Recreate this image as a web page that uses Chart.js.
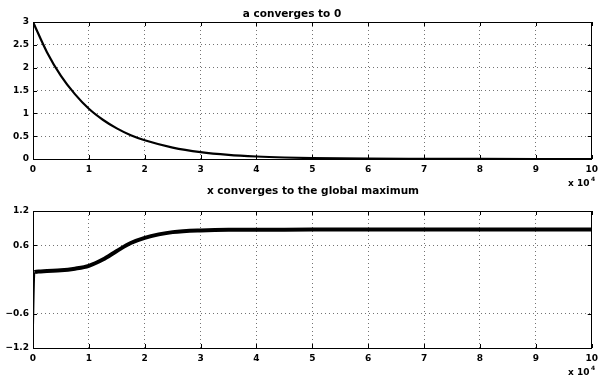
<!DOCTYPE html>
<html>
<head>
<meta charset="utf-8">
<script src="https://cdn.jsdelivr.net/npm/chart.js@4/dist/chart.umd.min.js"></script>
<style>
  html, body { margin:0; padding:0; background:#fff; }
  body { width:603px; height:379px; position:relative; overflow:hidden; }
  canvas { position:absolute; left:0; }
  #topChart { top:0; }
  #botChart { top:180px; }
</style>
</head>
<body>
<canvas id="topChart" width="603" height="190"></canvas>
<canvas id="botChart" width="603" height="199"></canvas>
<script>
// ====== DATA (x in units of 10^4) ======
const xTicks = [0, 1, 2, 3, 4, 5, 6, 7, 8, 9, 10];

// top: a converges to 0
const aX    = [0, 0.25, 0.5, 0.75, 1, 1.25, 1.5, 1.75, 2, 2.5, 3, 3.5, 4, 4.5, 5, 6, 7, 8, 9, 10];
const aVals = [3.0, 2.34, 1.82, 1.42, 1.10, 0.86, 0.67, 0.52, 0.41, 0.25, 0.15, 0.09, 0.055, 0.033, 0.02, 0.007, 0.003, 0.001, 0.0004, 0.0001];
const aYTicks = [0, 0.5, 1, 1.5, 2, 2.5, 3];

// bottom: x converges to the global maximum
const xX    = [0, 0.03, 0.1, 0.25, 0.5, 0.75, 1, 1.25, 1.5, 1.75, 2, 2.25, 2.5, 3, 3.5, 4, 5, 6, 7, 8, 9, 10];
const xVals = [-1.02, 0.13, 0.14, 0.15, 0.16, 0.19, 0.24, 0.35, 0.50, 0.64, 0.73, 0.79, 0.83, 0.86, 0.87, 0.87, 0.875, 0.875, 0.875, 0.875, 0.875, 0.875];
const xYTicks = [-1.2, -0.6, 0.6, 1.2];

const titles = ['a converges to 0', 'x converges to the global maximum'];

// ====== HELPERS ======
const FONT = '"DejaVu Sans", sans-serif';
const pts = (xs, ys) => xs.map((x, i) => ({ x, y: ys[i] }));
const fmtNum = v => (v < 0 ? '\u2212' + String(-v) : String(v));

// border box, inward ticks, title and the x 10^4 note
const matlabAxes = {
  id: 'matlabAxes',
  afterDraw(chart, args, opts) {
    const { ctx, chartArea: a, scales } = chart;
    ctx.save();
    ctx.strokeStyle = '#000';
    ctx.lineWidth = 1;
    ctx.strokeRect(Math.round(a.left) + 0.5, Math.round(a.top) + 0.5,
                   Math.round(a.right - a.left) - 1, Math.round(a.bottom - a.top));
    const tl = 4;
    ctx.beginPath();
    scales.x.ticks.forEach(t => {
      const px = Math.round(scales.x.getPixelForValue(t.value)) + 0.5;
      ctx.moveTo(px, a.bottom); ctx.lineTo(px, a.bottom - tl);
      ctx.moveTo(px, a.top); ctx.lineTo(px, a.top + tl);
    });
    scales.y.ticks.forEach(t => {
      const py = Math.round(scales.y.getPixelForValue(t.value)) + 0.5;
      ctx.moveTo(a.left, py); ctx.lineTo(a.left + tl, py);
      ctx.moveTo(a.right, py); ctx.lineTo(a.right - tl, py);
    });
    ctx.stroke();

    ctx.fillStyle = '#000';
    ctx.textAlign = 'center';
    ctx.textBaseline = 'alphabetic';
    ctx.font = 'bold 10.5px ' + FONT;
    ctx.fillText(opts.title, opts.titleX, opts.titleY);

    ctx.textAlign = 'left';
    ctx.font = 'bold 9px ' + FONT;
    ctx.fillText('x 10', 568, opts.expY);
    ctx.font = 'bold 6px ' + FONT;
    ctx.fillText('4', 591, opts.expY - 5);
    ctx.restore();
  }
};

function makeChart(id, data, lw, yMin, yMax, yTicks, o) {
  return new Chart(document.getElementById(id), {
    type: 'line',
    data: { datasets: [{
      data,
      borderColor: '#000',
      borderWidth: lw,
      pointRadius: 0,
      cubicInterpolationMode: 'monotone',
      segment: o.segment || {}
    }]},
    options: {
      responsive: false,
      animation: false,
      devicePixelRatio: 1,
      layout: { padding: { top: o.padTop, right: 7, left: 0, bottom: 0 } },
      plugins: {
        legend: { display: false },
        tooltip: { enabled: false },
        matlabAxes: o.axes
      },
      scales: {
        x: {
          type: 'linear', min: 0, max: 10,
          afterBuildTicks: s => { s.ticks = xTicks.map(v => ({ value: v })); },
          afterFit: s => { s.height = o.xH; },
          grid: { color: 'rgba(0,0,0,0.55)', lineWidth: 1, drawTicks: false },
          border: { display: false, dash: [1, 3] },
          ticks: { color: '#000', padding: 5, maxRotation: 0, font: { family: FONT, weight: 'bold', size: 9 } }
        },
        y: {
          min: yMin, max: yMax,
          afterBuildTicks: s => { s.ticks = yTicks.map(v => ({ value: v })); },
          afterFit: s => { s.width = 33; },
          grid: { color: 'rgba(0,0,0,0.55)', lineWidth: 1, drawTicks: false },
          border: { display: false, dash: [1, 3] },
          ticks: { color: '#000', padding: 4, callback: v => fmtNum(v), font: { family: FONT, weight: 'bold', size: 9 } }
        }
      }
    },
    plugins: [matlabAxes]
  });
}

makeChart('topChart', pts(aX, aVals), 2.2, 0, 3, aYTicks, {
  padTop: 22, xH: 31,
  axes: { title: titles[0], titleX: 292, titleY: 16.5, expY: 186 }
});

makeChart('botChart', pts(xX, xVals), 4, -1.2, 1.2, xYTicks, {
  padTop: 31, xH: 31,
  segment: { borderWidth: c => (c.p0DataIndex === 0 ? 1.5 : 4) },
  axes: { title: titles[1], titleX: 313, titleY: 13.5, expY: 195 }
});
</script>
</body>
</html>
